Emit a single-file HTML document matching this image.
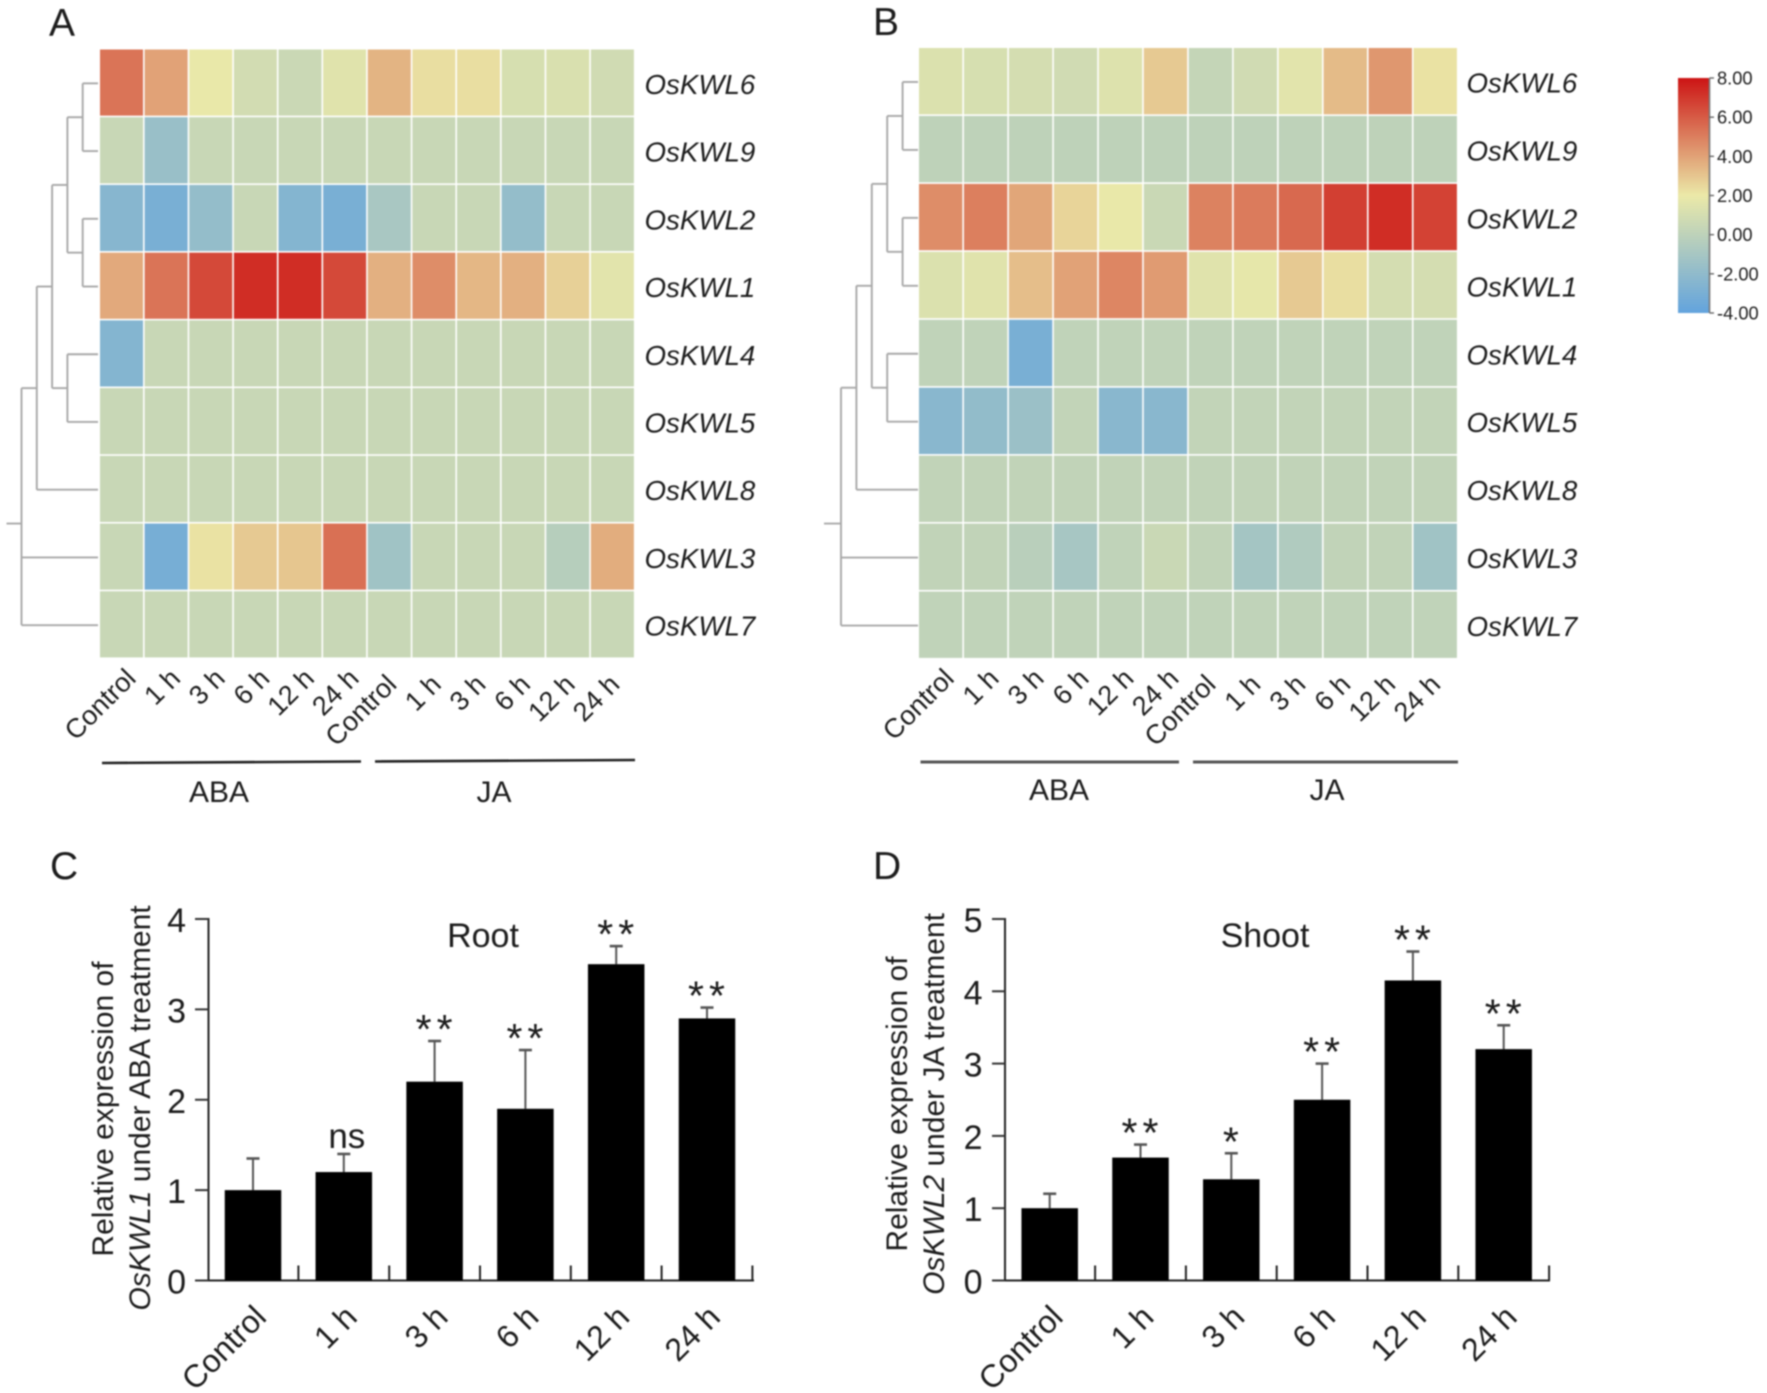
<!DOCTYPE html>
<html lang="en">
<head>
<meta charset="utf-8">
<title>OsKWL expression heatmaps and bar charts</title>
<style>
html,body{margin:0;padding:0;background:#fff;}
body{width:1767px;height:1393px;overflow:hidden;}
svg{display:block;filter:blur(0.7px);}
text{font-family:"Liberation Sans",sans-serif;fill:#1c1c1c;}
</style>
</head>
<body>
<svg id="figure" xmlns="http://www.w3.org/2000/svg" width="1767" height="1393" viewBox="0 0 1767 1393">
  <rect x="0" y="0" width="1767" height="1393" fill="#fff"></rect>
  <defs><linearGradient id="legend-gradient" x1="0" y1="1" x2="0" y2="0"></linearGradient></defs>

  <text x="49" y="36" font-size="39">A</text>
  <text x="873" y="35" font-size="39">B</text>
  <text x="50" y="879" font-size="39">C</text>
  <text x="873" y="879" font-size="39">D</text>

  <g id="heat-a"></g>
  <g id="heat-b"></g>

  <line x1="102" y1="763" x2="361" y2="761.5" stroke="#222" stroke-width="2.6"></line>
  <line x1="375" y1="761.5" x2="635" y2="760" stroke="#222" stroke-width="2.6"></line>
  <text x="219" y="802" font-size="30" text-anchor="middle">ABA</text>
  <text x="494" y="802" font-size="30" text-anchor="middle">JA</text>

  <line x1="920.5" y1="762" x2="1179" y2="762" stroke="#555" stroke-width="3"></line>
  <line x1="1193" y1="762" x2="1458" y2="762" stroke="#555" stroke-width="3"></line>
  <text x="1059" y="800" font-size="30" text-anchor="middle">ABA</text>
  <text x="1327" y="800" font-size="30" text-anchor="middle">JA</text>

  <g id="legend"></g>

  <g id="bars-c"></g>
  <g id="bars-d"></g>

  <text transform="translate(113,1109) rotate(-90)" font-size="30" text-anchor="middle" fill="#333">Relative expression of</text>
  <text transform="translate(150,1108) rotate(-90)" font-size="30" text-anchor="middle" fill="#333"><tspan font-style="italic">OsKWL1</tspan> under ABA treatment</text>
  <text transform="translate(907,1104) rotate(-90)" font-size="30" text-anchor="middle" fill="#333">Relative expression of</text>
  <text transform="translate(944,1104) rotate(-90)" font-size="30" text-anchor="middle" fill="#333"><tspan font-style="italic">OsKWL2</tspan> under JA treatment</text>

  <text x="483" y="947" font-size="34" text-anchor="middle">Root</text>
  <text x="1265" y="947" font-size="34" text-anchor="middle">Shoot</text>
</svg>

<script>
const rowLabels = ['OsKWL6','OsKWL9','OsKWL2','OsKWL1','OsKWL4','OsKWL5','OsKWL8','OsKWL3','OsKWL7'];
const heatColumns = ['Control','1 h','3 h','6 h','12 h','24 h','Control','1 h','3 h','6 h','12 h','24 h'];

const heatValuesA = [
  [5.3,4.0,1.9,0.9,0.55,1.5,3.5,2.3,2.3,1.1,1.2,0.8],
  [0.45,-1.6,0.45,0.45,0.45,0.45,0.45,0.45,0.45,0.45,0.45,0.45],
  [-2.4,-3.0,-1.8,0.45,-2.5,-3.0,-0.9,0.45,0.45,-1.8,0.45,0.45],
  [3.8,5.3,6.5,7.3,7.3,6.5,3.6,4.6,3.4,3.6,2.7,1.6],
  [-2.5,0.45,0.45,0.45,0.45,0.45,0.45,0.45,0.45,0.45,0.45,0.45],
  [0.45,0.45,0.45,0.45,0.45,0.45,0.45,0.45,0.45,0.45,0.45,0.45],
  [0.45,0.45,0.45,0.45,0.45,0.45,0.45,0.45,0.45,0.45,0.45,0.45],
  [0.45,-3.1,2.2,2.9,3.0,5.4,-1.3,0.45,0.45,0.45,-0.3,3.7],
  [0.45,0.45,0.45,0.45,0.45,0.45,0.45,0.45,0.45,0.45,0.45,0.45]
];
const heatValuesB = [
  [1.3,1.1,1.0,0.8,1.4,2.9,0.3,0.8,1.6,3.3,4.3,2.2],
  [0.05,0.05,0.05,0.05,0.05,0.05,0.05,0.05,0.05,0.05,0.05,0.05],
  [4.6,5.0,3.9,2.6,1.9,0.5,4.9,5.1,5.6,6.8,7.3,6.7],
  [1.3,1.5,3.2,4.0,4.8,4.2,1.5,1.8,2.9,2.3,1.0,1.0],
  [0.1,0.1,-3.0,0.1,0.1,0.1,0.1,0.1,0.1,0.1,0.1,0.1],
  [-2.3,-1.9,-1.5,0.2,-2.3,-2.3,0.2,0.2,0.2,0.2,0.2,0.2],
  [0.15,0.15,0.15,0.15,0.15,0.15,0.15,0.15,0.15,0.15,0.15,0.15],
  [0.15,0.15,-0.2,-1.0,0.1,0.5,0.15,-1.1,-0.6,0.15,0.15,-1.3],
  [0.1,0.1,0.1,0.1,0.1,0.1,0.1,0.1,0.1,0.1,0.1,0.1]
];

/* dendrogram merge structure: level = merge height, kids = sub-clusters or row indices */
const clusterTree = {level:5,kids:[{level:4,kids:[{level:3,kids:[{level:2,kids:[{level:1,kids:[0,1]},{level:1,kids:[2,3]}]},{level:2,kids:[4,5]}]},6]},7,8]};

const legendTicks = [8,6,4,2,0,-2,-4];

const barCategories = ['Control','1 h','3 h','6 h','12 h','24 h'];
const barValuesC = [1.0,1.2,2.2,1.9,3.5,2.9];
const errorTopsC = [1.35,1.4,2.65,2.55,3.7,3.02];
const sigLabelsC = ['','ns','**','**','**','**'];
const yTicksC = [0,1,2,3,4];
const barValuesD = [1.0,1.7,1.4,2.5,4.15,3.2];
const errorTopsD = [1.2,1.88,1.76,3.0,4.55,3.53];
const sigLabelsD = ['','**','*','**','**','**'];
const yTicksD = [0,1,2,3,4,5];

const SVGNS = 'http://www.w3.org/2000/svg';

function mk(parent, tag, attrs, txt) {
  const el = document.createElementNS(SVGNS, tag);
  for (const k in attrs) el.setAttribute(k, attrs[k]);
  if (txt !== undefined) el.textContent = txt;
  
  parent.appendChild(el);
  return el;
}

function lerp(a, b, t) { return a.map((v, i) => Math.round(v + (b[i] - v) * t)); }
const colorBlue = [98,163,221], colorYellow = [235,233,168], colorRed = [204,20,20];
function heatColor(v) {
  const c = v <= 2
    ? lerp(colorBlue, colorYellow, Math.max(0, (v + 4) / 6))
    : lerp(colorYellow, colorRed, Math.min(1, (v - 2) / 6));
  return 'rgb(' + c.join(',') + ')';
}

function drawHeatmap(g, key, values, box) {
  const colW = (box.x1 - box.x0) / values[0].length;
  const rowH = (box.y1 - box.y0) / values.length;
  const xOf = c => box.x0 + c * colW;
  const yOf = r => box.y0 + r * rowH;

  values.forEach((row, r) => {
    row.forEach((v, c) => {
      const cell = mk(g, 'rect', {x: xOf(c), y: yOf(r), width: colW - 1.6, height: rowH - 1.6, fill: heatColor(v)});
      
    });
    const lab = mk(g, 'text', {x: box.labelX, y: yOf(r) + rowH / 2 + 10.5, 'font-size': 27.7, 'font-style': 'italic'}, rowLabels[r]);
    
  });

  heatColumns.forEach((name, c) => {
    const second = c >= 6;
    const bx = xOf(c) + colW / 2 + (second ? box.dx2 : box.dx1);
    const by = second ? 686 : 680;
    const lab = mk(g, 'text', {transform: 'translate(' + bx + ',' + by + ') rotate(-45)', 'font-size': 27, 'text-anchor': 'end', fill: '#333'}, name);
    
  });

  const treeG = mk(g, 'g', {});
  
  const levelX = lv => box.leafX - lv * box.levelStep;
  function seg(x1, y1, x2, y2) {
    const l = mk(treeG, 'line', {x1: x1, y1: y1, x2: x2, y2: y2, stroke: '#a8a8a8', 'stroke-width': 1.9});
    
  }
  function layout(node) {
    if (typeof node === 'number') return {x: box.leafX, y: yOf(node) + rowH / 2};
    const x = levelX(node.level);
    const pts = node.kids.map(layout);
    const ys = pts.map(p => p.y);
    seg(x, Math.min(...ys), x, Math.max(...ys));
    pts.forEach(p => seg(x, p.y, p.x, p.y));
    return {x: x, y: ys.reduce((a, b) => a + b, 0) / ys.length};
  }
  const root = layout(clusterTree);
  seg(root.x - box.stem, root.y, root.x, root.y);
}

drawHeatmap(document.getElementById('heat-a'), 'a', heatValuesA,
  {x0: 100, x1: 635.5, y0: 49.5, y1: 659, labelX: 644.5, leafX: 98, levelStep: 15.3, stem: 15, dx1: 15, dx2: 8});
drawHeatmap(document.getElementById('heat-b'), 'b', heatValuesB,
  {x0: 919, x1: 1458.5, y0: 48, y1: 659.5, labelX: 1466.5, leafX: 918, levelStep: 15.4, stem: 17, dx1: 14, dx2: 6});

/* legend */
(function () {
  const g = document.getElementById('legend');
  const grad = document.getElementById('legend-gradient');
  const yTop = 78, yBot = 313, vMin = -4, vMax = 8;
  const yOf = v => yBot - (v - vMin) / (vMax - vMin) * (yBot - yTop);
  [-4, 2, 8].forEach(v => {
    const s = document.createElementNS(SVGNS, 'stop');
    s.setAttribute('offset', (v - vMin) / (vMax - vMin));
    s.setAttribute('stop-color', heatColor(v));
    grad.appendChild(s);
  });
  const bar = mk(g, 'rect', {x: 1678, y: yTop, width: 31, height: yBot - yTop, fill: 'url(#legend-gradient)'});
  
  const axis = mk(g, 'line', {x1: 1709.5, y1: yTop, x2: 1709.5, y2: yBot, stroke: '#777', 'stroke-width': 1.6});
  
  legendTicks.forEach(v => {
    const t = mk(g, 'line', {x1: 1709.5, y1: yOf(v), x2: 1714, y2: yOf(v), stroke: '#666', 'stroke-width': 1.4});
    
    const lab = mk(g, 'text', {x: 1717, y: yOf(v) + 6.5, 'font-size': 18.3, fill: '#444'}, v.toFixed(2));
    
  });
})();

function drawBars(g, key, values, tops, sigs, ticks, o) {
  const yOf = v => o.y0 - v / ticks[ticks.length - 1] * (o.y0 - o.yTop);
  const centerOf = i => o.firstCenter + i * o.step;

  const yAxis = mk(g, 'line', {x1: o.axisX, y1: o.yTop - 1, x2: o.axisX, y2: o.y0 + 1, stroke: '#222', 'stroke-width': 2});
  
  const xAxis = mk(g, 'line', {x1: o.axisLeft, y1: o.y0, x2: o.axisRight, y2: o.y0, stroke: '#222', 'stroke-width': 2});
  

  ticks.forEach(t => {
    const tk = mk(g, 'line', {x1: o.axisLeft, y1: yOf(t), x2: o.axisX, y2: yOf(t), stroke: '#333', 'stroke-width': 2});
    
    const lab = mk(g, 'text', {x: o.axisX - 22.5, y: yOf(t) + 13, 'font-size': 34, 'text-anchor': 'end'}, String(t));
    
  });

  values.forEach((v, i) => {
    const cx = centerOf(i);
    const err = mk(g, 'line', {x1: cx, y1: yOf(tops[i]), x2: cx, y2: yOf(v), stroke: '#555', 'stroke-width': 2});
    
    const cap = mk(g, 'line', {x1: cx - 6.5, y1: yOf(tops[i]), x2: cx + 6.5, y2: yOf(tops[i]), stroke: '#555', 'stroke-width': 2.6});
    
    const bar = mk(g, 'rect', {x: cx - o.barW / 2, y: yOf(v), width: o.barW, height: o.y0 - yOf(v), fill: '#000'});
    

    const tk = mk(g, 'line', {x1: cx + o.step / 2, y1: o.y0 - 15, x2: cx + o.step / 2, y2: o.y0, stroke: '#222', 'stroke-width': 2});
    

    const lab = mk(g, 'text', {transform: 'translate(' + (cx + 15) + ',' + 1319 + ') rotate(-45)', 'font-size': 32, 'text-anchor': 'end', fill: '#333'}, barCategories[i]);
    

    const s = sigs[i];
    if (s === 'ns') {
      const sig = mk(g, 'text', {x: cx + 3, y: yOf(tops[i]) - 6, 'font-size': 35, 'text-anchor': 'middle'}, s);
      
    } else if (s) {
      const sig = mk(g, 'text', {x: cx + 2, y: yOf(tops[i]) - 21 + 23, 'font-size': 41, 'text-anchor': 'middle', 'letter-spacing': 5, fill: '#333'}, s);
      
    }
  });
}

drawBars(document.getElementById('bars-c'), 'c', barValuesC, errorTopsC, sigLabelsC, yTicksC,
  {y0: 1280.5, yTop: 919, axisX: 208.5, axisLeft: 195, axisRight: 754, firstCenter: 253, step: 90.8, barW: 56.5});
drawBars(document.getElementById('bars-d'), 'd', barValuesD, errorTopsD, sigLabelsD, yTicksD,
  {y0: 1280.5, yTop: 919, axisX: 1005, axisLeft: 992, axisRight: 1550, firstCenter: 1049.7, step: 90.8, barW: 56.5});
</script>
</body>
</html>
